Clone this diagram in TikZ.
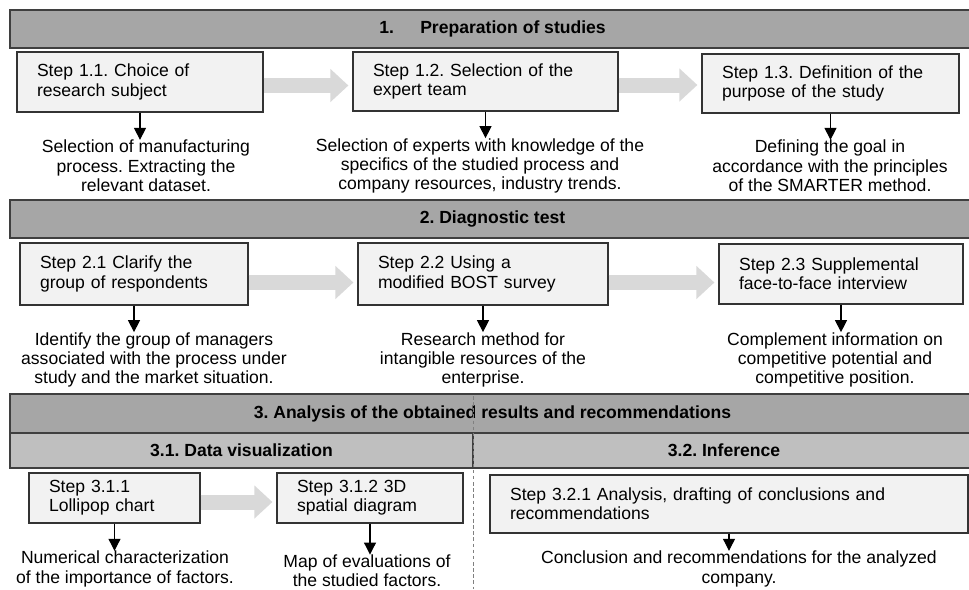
\documentclass[tikz,border=0pt]{standalone}
\usepackage{fontspec}
\setmainfont{Liberation Sans}
\usetikzlibrary{arrows.meta}
\definecolor{hdrgray}{HTML}{A6A6A6}
\definecolor{subgray}{HTML}{BFBFBF}
\definecolor{boxgray}{HTML}{F2F2F2}
\definecolor{flowgray}{HTML}{D9D9D9}
\definecolor{edgegray}{HTML}{3F3F3F}
\frenchspacing
\begin{document}
\begin{tikzpicture}[x=0.02cm, y=-0.02cm,
	every node/.style={font=\fontsize{10}{11}\selectfont},
	header/.style={draw=edgegray, line width=1.1pt, fill=hdrgray, font=\fontsize{10}{11}\selectfont\bfseries, minimum width=19.3cm, minimum height=0.76cm, inner sep=0pt},
	subheader/.style={header, fill=subgray, minimum height=0.7cm},
	stepbox/.style={draw=black!80, line width=0.7pt, fill=boxgray, align=left, inner xsep=0.4cm, inner ysep=0pt},
	note/.style={align=center, inner sep=0pt},
	flow/.style={flowgray, line width=0.3cm, -{Triangle[length=0.36cm, width=0.64cm]}, shorten >=0.08cm},
	down/.style={-{Triangle[length=0.24cm, width=0.24cm]}, line width=0.6pt}]
	\useasboundingbox (0,0) rectangle (969,589);
	
	% 1. Preparation of studies
	\node[header] (h1) at (492.5,29) {1.\hspace{1.5em}Preparation of studies\hspace{0.5cm}};
	\node[stepbox, text width=4.12cm, minimum height=1.2cm] (s11) at (140,82) {Step 1.1. Choice of\\research subject};
	\node[stepbox, text width=4.5cm, minimum height=1.18cm] (s12) at (485.5,81.5) {Step 1.2. Selection of the\\expert team};
	\node[stepbox, text width=4.34cm, minimum height=1.18cm] (s13) at (830.5,83.5) {Step 1.3. Definition of the\\purpose of the study};
	\node[note] (d11) at (146,166) {Selection of manufacturing\\process. Extracting the\\relevant dataset.};
	\node[note] (d12) at (480,166) {Selection of experts with knowledge of the\\specifics of the studied process and\\company resources, industry trends.};
	\node[note] (d13) at (830,166) {Defining the goal in\\accordance with the principles\\of the SMARTER method.};
	
	\draw[flow] ([yshift=-0.07cm]s11.east) -- ([yshift=-0.07cm]s11.east -| s12.west);
	\draw[flow] ([yshift=-0.07cm]s12.east) -- ([yshift=-0.07cm]s12.east -| s13.west);
	\draw[down] (s11.south) -- (s11.south |- d11.north);
	\draw[down] (s12.south) -- (s12.south |- d12.north);
	\draw[down] (s13.south) -- (s13.south |- d13.north);
	
	% 2. Diagnostic test
	\node[header] (h2) at (492.5,219) {2. Diagnostic test};
	\node[stepbox, text width=3.76cm, minimum height=1.24cm] (s21) at (134,274) {Step 2.1 Clarify the\\group of respondents};
	\node[stepbox, text width=4.2cm, minimum height=1.24cm] (s22) at (483,274) {Step 2.2 Using a\\modified BOST survey};
	\node[stepbox, text width=4.08cm, minimum height=1.2cm] (s23) at (841,274) {Step 2.3 Supplemental\\face-to-face interview};
	\node[note] (d21) at (154,360) {Identify the group of managers\\associated with the process under\\study and the market situation.};
	\node[note] (d22) at (483,360) {Research method for\\intangible resources of the\\enterprise.};
	\node[note] (d23) at (835,360) {Complement information on\\competitive potential and\\competitive position.};
	
	\draw[flow] ([yshift=-0.17cm]s21.east) -- ([yshift=-0.17cm]s21.east -| s22.west);
	\draw[flow] ([yshift=-0.17cm]s22.east) -- ([yshift=-0.17cm]s22.east -| s23.west);
	\draw[down] (s21.south) -- (s21.south |- d21.north);
	\draw[down] (s22.south) -- (s22.south |- d22.north);
	\draw[down] (s23.south) -- (s23.south |- d23.north);
	
	% 3. Analysis
	\node[header, minimum height=0.78cm] (h3) at (492.5,413.5) {3. Analysis of the obtained results and recommendations};
	\node[subheader, minimum width=9.26cm] (h31) at (241.5,450.5) {3.1. Data visualization};
	\node[subheader, minimum width=10.04cm] (h32) at (724,450.5) {3.2. Inference};
	\node[stepbox, text width=2.62cm, minimum height=1cm] (s311) at (114.5,498) {Step 3.1.1\\Lollipop chart};
	\node[stepbox, text width=2.92cm, minimum height=1cm] (s312) at (370,498) {Step 3.1.2 3D\\spatial diagram};
	\node[stepbox, text width=8.76cm, minimum height=1.16cm] (s321) at (729,504) {Step 3.2.1 Analysis, drafting of conclusions and\\recommendations};
	\node[note] (d311) at (125,569) {Numerical characterization\\of the importance of factors.};
	\node[note] (d312) at (367,571) {Map of evaluations of\\the studied factors.};
	\node[note] (d321) at (739,569) {Conclusion and recommendations for the analyzed\\company.};
	
	\draw[flow] ([yshift=-0.08cm]s311.east) -- ([yshift=-0.08cm]s311.east -| s312.west);
	\draw[down] (s311.south) -- (s311.south |- d311.north);
	\draw[down] (s312.south) -- (s312.south |- d312.north);
	\draw[down] (s321.south) -- (s321.south |- d321.north);
	
	% divider between 3.1 and 3.2
	\coordinate (divtop) at (473,396);
	\coordinate (divbot) at (473,589);
	\draw[gray, line width=0.4pt, dash pattern=on 2pt off 1.5pt] (divtop) -- (divbot);
\end{tikzpicture}
\end{document}
